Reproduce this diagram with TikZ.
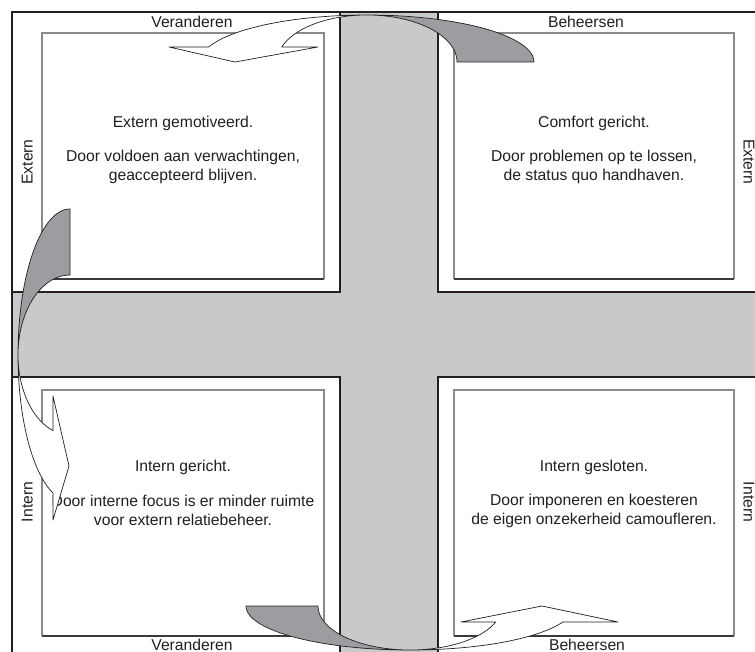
\documentclass[tikz,border=0pt]{standalone}
\usepackage{fontspec}
\setmainfont{Liberation Sans}
\definecolor{ink}{HTML}{231F20}
\definecolor{bandgray}{HTML}{C8C9CB}
\definecolor{backgray}{HTML}{9C9DA1}
\definecolor{boxgray}{HTML}{8A8A8A}
\definecolor{boxdark}{HTML}{3A3A3A}
\begin{document}
\begin{tikzpicture}[x=1pt,y=-1pt,
  frameline/.style={draw=ink,line width=1.3pt},
  innerbox/.style={draw=boxgray,line width=1.2pt},
  innerbase/.style={draw=boxdark,line width=1.2pt},
  txt/.style={inner sep=0pt,align=center,font=\fontsize{15.7}{19}\selectfont,text=ink},
  backface/.style={fill=backgray,draw=ink,line width=0.7pt,line join=round},
  frontface/.style={fill=white,draw=ink,line width=0.7pt,line join=round}]
\useasboundingbox (0,0) rectangle (755,652);
\clip (0,0) rectangle (755,652);
\fill[white] (0,0) rectangle (755,652);

% grey cross between the four quadrants
\fill[bandgray] (340,12) rectangle (438,670);
\fill[bandgray] (12,292) rectangle (770,377);

% quadrant edges along the cross
\draw[frameline] (340,12) -- (340,292) -- (12,292);
\draw[frameline] (438,12) -- (438,292) -- (770,292);
\draw[frameline] (12,377) -- (340,377) -- (340,670);
\draw[frameline] (770,377) -- (438,377) -- (438,670);

% outer frame
\draw[frameline] (12,670) -- (12,12) -- (770,12);

% inner boxes
\draw[innerbox] (42,279) -- (42,33) -- (324,33) -- (324,279);
\draw[innerbase] (42,279) -- (324,279);
\draw[innerbox] (454,279) -- (454,33) -- (734,33) -- (734,279);
\draw[innerbase] (454,279) -- (734,279);
\draw[innerbox] (42,636) -- (42,390) -- (324,390) -- (324,636);
\draw[innerbase] (42,636) -- (324,636);
\draw[innerbox] (454,636) -- (454,390) -- (734,390) -- (734,636);
\draw[innerbase] (454,636) -- (734,636);

% axis labels
\node[txt,anchor=base] (topL) at (192,27.5) {Veranderen};
\node[txt,anchor=base] (topR) at (586,27.5) {Beheersen};
\node[txt,anchor=base] (botL) at (192,650) {Veranderen};
\node[txt,anchor=base] (botR) at (587,650) {Beheersen};
\node[txt,anchor=base,rotate=90] (leftE) at (32.5,162) {Extern};
\node[txt,anchor=base,rotate=90] (leftI) at (32.5,502) {Intern};
\node[txt,anchor=base,rotate=-90] (rightE) at (743.5,162) {Extern};
\node[txt,anchor=base,rotate=-90] (rightI) at (743.5,502) {Intern};

% quadrant texts
\node[txt] (tlTitle) at (183,123) {Extern gemotiveerd.};
\node[txt] (tlBody) at (183,166.5) {Door voldoen aan verwachtingen,\\geaccepteerd blijven.};
\node[txt] (trTitle) at (594,123) {Comfort gericht.};
\node[txt] (trBody) at (594,166.5) {Door problemen op te lossen,\\de status quo handhaven.};
\node[txt] (blTitle) at (183,467) {Intern gericht.};
\node[txt] (blBody) at (183,510.5) {Door interne focus is er minder ruimte\\voor extern relatiebeheer.};
\node[txt] (brTitle) at (594,467) {Intern gesloten.};
\node[txt] (brBody) at (594,510.5) {Door imponeren en koesteren\\de eigen onzekerheid camoufleren.};

% top curved arrow (Beheersen -> Veranderen)
\filldraw[backface] plot[domain=0:90,samples=40] ({367+167*cos(\x)},{62-47*sin(\x)})
  -- plot[domain=90:0,samples=40] ({367+90*cos(\x)},{62-47*sin(\x)}) -- cycle;
\filldraw[frontface] plot[domain=90:161.4,samples=40] ({367+167*cos(\x)},{62-47*sin(\x)})
  -- (169,47) -- (235,62) -- (318,47)
  -- plot[domain=161.4:90,samples=40] ({367+90*cos(\x)},{62-47*sin(\x)}) -- cycle;

% bottom curved arrow (Veranderen -> Beheersen)
\filldraw[backface] plot[domain=180:90,samples=40] ({410+164*cos(\x)},{606+44*sin(\x)})
  -- plot[domain=90:180,samples=40] ({410+92*cos(\x)},{606+44*sin(\x)}) -- cycle;
\filldraw[frontface] plot[domain=90:21.3,samples=40] ({410+164*cos(\x)},{606+44*sin(\x)})
  -- (618,622) -- (542,606) -- (461,622)
  -- plot[domain=21.3:90,samples=40] ({410+92*cos(\x)},{606+44*sin(\x)}) -- cycle;

% left curved arrow (Extern -> Intern)
\filldraw[backface] plot[domain=0:90,samples=40] ({70-52*sin(\x)},{355-146*cos(\x)})
  -- plot[domain=90:0,samples=40] ({70-52*sin(\x)},{355-80*cos(\x)}) -- cycle;
\filldraw[frontface] plot[domain=90:160.9,samples=40] ({70-52*sin(\x)},{355-146*cos(\x)})
  -- (53,520) -- (69,466) -- (53,396)
  -- plot[domain=160.9:90,samples=40] ({70-52*sin(\x)},{355-80*cos(\x)}) -- cycle;
\end{tikzpicture}
\end{document}
